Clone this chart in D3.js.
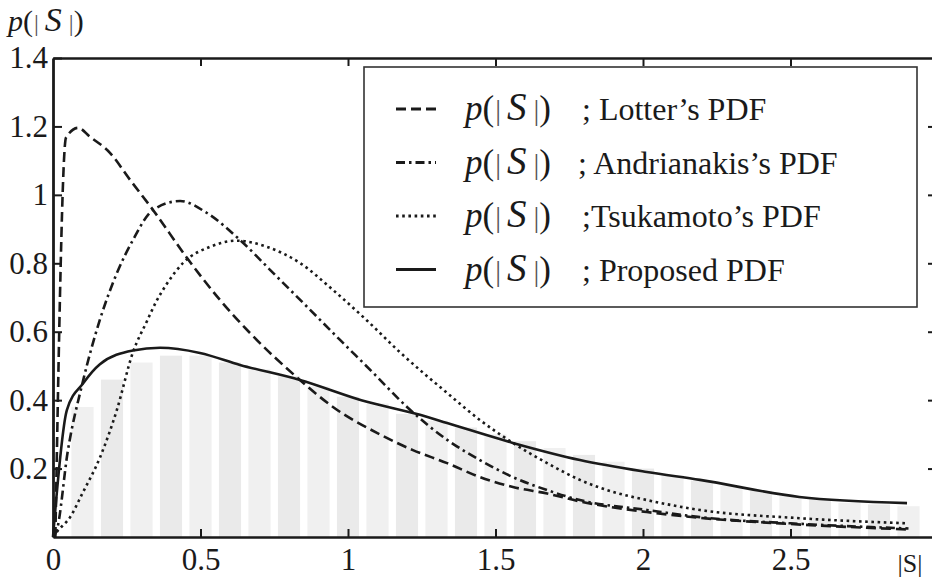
<!DOCTYPE html>
<meta charset="utf-8">
<style>
body { margin: 0; background: #fff; }
svg { display: block; font-family: "Liberation Serif", "DejaVu Serif", serif; }
.axis path, .axis line { stroke: #1a1a1a; }
.curve { fill: none; stroke: #1a1a1a; stroke-width: 2.6px; }
.legendText { fill: #1a1a1a; }
</style>
<svg width="932" height="579"></svg>
<script src="https://d3js.org/d3.v7.min.js"></script>
<script>
    // values
    var xTicks = [0, 0.5, 1, 1.5, 2, 2.5];
    var yTicks = [0.2, 0.4, 0.6, 0.8, 1, 1.2, 1.4];

    var lotterX = [0.008, 0.044, 0.085, 0.125, 0.193, 0.261, 0.339, 0.454, 0.566, 0.668, 0.837, 0.949, 1.108, 1.22, 1.336, 1.447, 1.559, 1.675, 1.786, 2.013, 2.193, 2.5, 2.9];
    var lotterY = [0, 1.167, 1.196, 1.17, 1.123, 1.044, 0.956, 0.816, 0.693, 0.596, 0.459, 0.38, 0.30, 0.254, 0.216, 0.175, 0.146, 0.127, 0.104, 0.073, 0.056, 0.038, 0.022];

    var andriX = [0, 0.013, 0.05, 0.10, 0.159, 0.217, 0.271, 0.339, 0.431, 0.522, 0.634, 0.746, 0.861, 0.973, 1.085, 1.2, 1.336, 1.447, 1.559, 1.675, 1.786, 2.013, 2.193, 2.5, 2.9];
    var andriY = [0, 0.02, 0.25, 0.45, 0.635, 0.772, 0.868, 0.956, 0.982, 0.947, 0.868, 0.772, 0.673, 0.576, 0.48, 0.38, 0.284, 0.225, 0.175, 0.137, 0.108, 0.079, 0.058, 0.04, 0.025];

    var tsukaX = [0, 0.013, 0.058, 0.10, 0.16, 0.216, 0.271, 0.318, 0.351, 0.386, 0.441, 0.532, 0.623, 0.725, 0.837, 0.949, 1.064, 1.176, 1.336, 1.447, 1.559, 1.675, 1.786, 1.898, 2.013, 2.193, 2.53, 2.9];
    var tsukaY = [0, 0.015, 0.058, 0.128, 0.234, 0.37, 0.54, 0.63, 0.69, 0.74, 0.801, 0.848, 0.866, 0.848, 0.801, 0.722, 0.633, 0.54, 0.421, 0.342, 0.275, 0.216, 0.167, 0.132, 0.108, 0.079, 0.055, 0.04];

    var propX = [0, 0.047, 0.103, 0.159, 0.271, 0.363, 0.498, 0.634, 0.837, 1.064, 1.244, 1.336, 1.559, 1.786, 2.013, 2.193, 2.53, 2.895];
    var propY = [0, 0.371, 0.45, 0.505, 0.545, 0.553, 0.538, 0.503, 0.459, 0.395, 0.357, 0.333, 0.275, 0.225, 0.19, 0.167, 0.117, 0.099];

    // grey histogram bars behind the curves
    var histX = [0.1, 0.2, 0.3, 0.4, 0.5, 0.6, 0.7, 0.8, 0.9, 1.0, 1.1, 1.2, 1.3, 1.4, 1.5, 1.6, 1.7, 1.8, 1.9, 2.0, 2.1, 2.2, 2.3, 2.4, 2.5, 2.6, 2.7, 2.8, 2.9];
    var histY = [0.38, 0.46, 0.51, 0.53, 0.53, 0.51, 0.49, 0.47, 0.44, 0.41, 0.39, 0.36, 0.34, 0.32, 0.30, 0.28, 0.26, 0.24, 0.22, 0.20, 0.18, 0.165, 0.15, 0.135, 0.12, 0.11, 0.10, 0.095, 0.09];

    var series = [
        {name: "; Lotter\u2019s PDF", xs: lotterX, ys: lotterY, dash: "10,5"},
        {name: "; Andrianakis\u2019s PDF", xs: andriX, ys: andriY, dash: "9,4,2.5,4"},
        {name: ";Tsukamoto\u2019s PDF", xs: tsukaX, ys: tsukaY, dash: "2.6,3.6"},
        {name: "; Proposed PDF", xs: propX, ys: propY, dash: null}
    ];

    var svg = d3.select("svg");
    var plotL = 53, plotR = 938, plotT = 58, plotB = 537;

    var xScale = d3.scaleLinear().domain([0, 3]).range([plotL, plotR]);
    var yScale = d3.scaleLinear().domain([0, 1.4]).range([plotB, plotT]);

    // histogram
    var bw = xScale(0.075) - xScale(0);
    svg.append("g").selectAll("rect")
        .data(histX)
        .enter().append("rect")
            .attr("x", function(d) { return xScale(d) - bw / 2; })
            .attr("y", function(d, i) { return yScale(histY[i]); })
            .attr("width", bw)
            .attr("height", function(d, i) { return yScale(0) - yScale(histY[i]); })
            .attr("fill", function(d, i) { return i % 2 ? "#eaeaea" : "#f0f0f0"; });

    // axes, ticks pointing inward
    var fmt = d3.format("~g");
    function serifTicks(g) {
        g.attr("font-family", null).attr("font-size", null);
        g.selectAll("text")
            .style("font-family", "'Liberation Serif', serif")
            .style("font-size", "31px")
            .attr("fill", "#1a1a1a");
    }
    svg.append("g")
        .attr("class", "axis")
        .attr("transform", "translate(0," + plotB + ")")
        .call(d3.axisBottom(xScale).tickValues(xTicks).tickSizeInner(-8).tickSizeOuter(0).tickPadding(11).tickFormat(fmt))
        .call(serifTicks)
        .call(function(g) { g.select(".domain").attr("stroke-width", 2.6); });

    svg.append("g")
        .attr("class", "axis")
        .attr("transform", "translate(0," + plotT + ")")
        .call(d3.axisTop(xScale).tickValues(xTicks.slice(1)).tickSizeInner(-8).tickSizeOuter(0).tickFormat(""))
        .call(function(g) { g.select(".domain").attr("stroke-width", 2.6); });

    svg.append("g")
        .attr("class", "axis")
        .attr("transform", "translate(" + plotL + ",0)")
        .call(d3.axisLeft(yScale).tickValues(yTicks).tickSizeInner(-9).tickSizeOuter(0).tickPadding(5).tickFormat(fmt))
        .call(serifTicks)
        .call(function(g) { g.select(".domain").attr("stroke-width", 2.8); });

    svg.append("g")
        .attr("class", "axis")
        .attr("transform", "translate(" + plotR + ",0)")
        .call(d3.axisRight(yScale).tickValues(yTicks.slice(0, 6)).tickSizeInner(-10).tickSizeOuter(0).tickFormat(""));

    svg.selectAll(".axis .tick line").attr("stroke-width", 2);

    // curves
    var line = d3.line()
        .x(function(d) { return xScale(d[0]); })
        .y(function(d) { return yScale(d[1]); })
        .curve(d3.curveMonotoneX);

    svg.append("g").selectAll("path")
        .data(series)
        .enter().append("path")
            .attr("class", "curve")
            .attr("stroke-dasharray", function(d) { return d.dash; })
            .attr("d", function(d) { return line(d.xs.map(function(x, i) { return [x, d.ys[i]]; })); });

    // axis titles
    function pS(g, size) {
        g.append("tspan").attr("font-style", "italic").attr("font-size", size).text("p");
        g.append("tspan").attr("font-size", size).text("(");
        g.append("tspan").attr("font-size", size - 6).attr("dx", 1).attr("fill", "#555").text("|");
        g.append("tspan").attr("font-style", "italic").attr("font-size", size + 4).attr("dx", 6).text("S");
        g.append("tspan").attr("font-size", size - 6).attr("dx", 7).attr("fill", "#555").text("|");
        g.append("tspan").attr("font-size", size).text(")");
    }
    var yTitle = svg.append("text")
        .attr("x", 8).attr("y", 31)
        .attr("fill", "#1a1a1a");
    pS(yTitle, 30);

    svg.append("text")
        .attr("x", 910).attr("y", 572)
        .attr("text-anchor", "middle")
        .attr("font-size", 26).attr("fill", "#1a1a1a")
        .text("|S|");

    // legend
    var legend = svg.append("g");
    legend.append("rect")
        .attr("x", 364).attr("y", 67)
        .attr("width", 553).attr("height", 240)
        .attr("fill", "#fff")
        .attr("stroke", "#333").attr("stroke-width", 1.6);

    var rows = legend.selectAll("g.row")
        .data(series)
        .enter().append("g")
            .attr("class", "row")
            .attr("transform", function(d, i) { return "translate(0," + (120 + i * 53.5) + ")"; });

    rows.append("line")
        .attr("x1", 396).attr("x2", 436)
        .attr("y1", -11).attr("y2", -11)
        .attr("stroke", "#1a1a1a").attr("stroke-width", 3)
        .attr("stroke-dasharray", function(d) { return d.dash; });

    rows.each(function(d) {
        var t = d3.select(this).append("text")
            .attr("class", "legendText")
            .attr("x", 465).attr("y", 0);
        pS(t, 35);
        d3.select(this).append("text")
            .attr("class", "legendText")
            .attr("font-size", 32)
            .attr("x", d.name.indexOf("Andri") > 0 ? 578 : 582).attr("y", 0)
            .text(d.name);
    });
</script>
